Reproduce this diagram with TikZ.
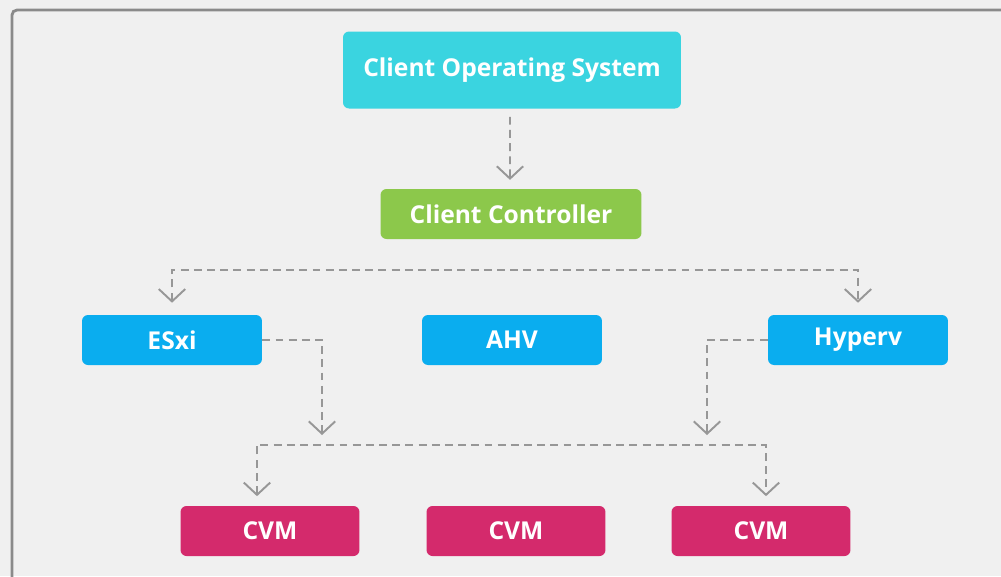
\documentclass[tikz,border=0pt]{standalone}
\usepackage{fontspec}
\setmainfont{Open Sans}
\usetikzlibrary{arrows.meta}
\definecolor{bggray}{HTML}{F0F0F0}
\definecolor{framegray}{HTML}{8A8A8A}
\definecolor{linkgray}{HTML}{979797}
\definecolor{coscyan}{HTML}{3AD4E0}
\definecolor{ctrlgreen}{HTML}{8CC84B}
\definecolor{hvblue}{HTML}{0AADEF}
\definecolor{cvmpink}{HTML}{D42A6C}

\begin{document}
\begin{tikzpicture}[x=0.02cm,y=-0.02cm]
\tikzset{box/.style={rounded corners=0.12cm, text=white, inner sep=0pt, minimum height=1cm, font=\bfseries\fontsize{14}{16}\selectfont},
  link/.style={draw=linkgray, line width=1.1pt, dash pattern=on 4.5pt off 3pt, ->},
  >={Straight Barb[length=7pt,width=15pt]}}

\useasboundingbox[fill=bggray] (0,0) rectangle (1001,576);
\draw[framegray, line width=1.6pt, rounded corners=0.1cm] (12,10) rectangle (1030,600);

\node[box, fill=coscyan, minimum width=6.76cm, minimum height=1.54cm] (cos) at (512,70) {Client Operating System};
\node[box, fill=ctrlgreen, minimum width=5.22cm] (ctrl) at (511,214) {Client Controller};
\node[box, fill=hvblue, minimum width=3.6cm] (esxi) at (172,340) {ESxi\hspace{0.28cm}};
\node[box, fill=hvblue, minimum width=3.6cm] (ahv) at (512,340) {AHV};
\node[box, fill=hvblue, minimum width=3.6cm] (hyperv) at (858,340) {Hyperv\hspace{0.44cm}};
\node[box, fill=cvmpink, minimum width=3.58cm] (cvm1) at (270,531) {CVM};
\node[box, fill=cvmpink, minimum width=3.58cm] (cvm2) at (516,531) {CVM};
\node[box, fill=cvmpink, minimum width=3.58cm] (cvm3) at (761,531) {CVM};

\coordinate (esxiend) at (322,435);
\coordinate (hypervend) at (707,435);

\draw[link, shorten <=4.5pt, shorten >=5pt] ([xshift=-0.04cm]cos.south) -- ([xshift=-0.02cm]ctrl.north);
\draw[link, <->, shorten <=6.8pt, shorten >=6.8pt] (esxi.north) -- ++(0,-45) -| (hyperv.north);
\draw[link] (esxi.east) -| (esxiend);
\draw[link] (hyperv.west) -| (hypervend);
\draw[link, <->, shorten <=5.4pt, shorten >=5.4pt] ([xshift=-0.26cm]cvm1.north) -- ++(0,-61) -| ([xshift=0.1cm]cvm3.north);
\end{tikzpicture}
\end{document}
